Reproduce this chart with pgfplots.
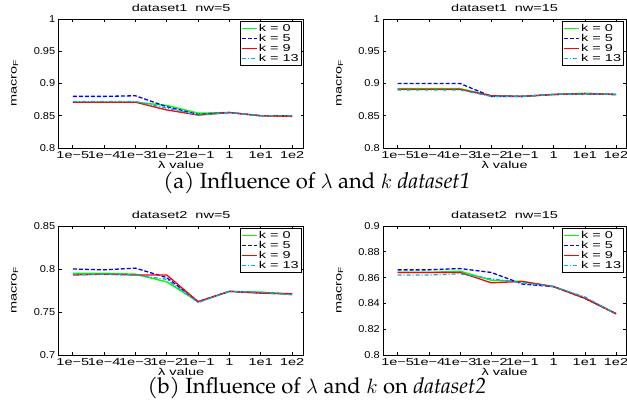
\documentclass[border=0pt]{standalone}
\usepackage{pgfplots}
\pgfplotsset{compat=1.18}
\usepackage{pgfplotstable}
\usepackage{fontspec}
\setmainfont{Liberation Sans}
\newfontfamily\wide[FakeStretch=1.45]{Liberation Sans}
\newfontfamily\ytk[FakeStretch=1.1]{Liberation Sans}
\newfontfamily\capfont{TeX Gyre Pagella}

% lambda index: 0=1e-5 ... 7=1e2
\pgfplotstableread{
x k0 k5 k9 k13
0 0.871 0.880 0.871 0.872
1 0.871 0.880 0.871 0.872
2 0.871 0.881 0.871 0.872
3 0.866 0.864 0.859 0.862
4 0.854 0.852 0.851 0.851
5 0.855 0.855 0.855 0.855
6 0.850 0.850 0.850 0.850
7 0.850 0.850 0.849 0.850
}\dataAa
\pgfplotstableread{
x k0 k5 k9 k13
0 0.892 0.900 0.891 0.890
1 0.892 0.900 0.891 0.890
2 0.892 0.900 0.891 0.890
3 0.881 0.880 0.881 0.880
4 0.880 0.880 0.880 0.880
5 0.883 0.883 0.883 0.883
6 0.885 0.884 0.884 0.884
7 0.883 0.883 0.883 0.883
}\dataAb
\pgfplotstableread{
x k0 k5 k9 k13
0 0.795 0.800 0.793 0.794
1 0.795 0.799 0.794 0.794
2 0.794 0.801 0.793 0.793
3 0.785 0.790 0.793 0.788
4 0.762 0.762 0.762 0.761
5 0.774 0.774 0.774 0.774
6 0.773 0.772 0.772 0.773
7 0.771 0.771 0.771 0.770
}\dataBa
\pgfplotstableread{
x k0 k5 k9 k13
0 0.864 0.866 0.864 0.862
1 0.864 0.866 0.864 0.862
2 0.865 0.867 0.864 0.863
3 0.858 0.864 0.856 0.859
4 0.857 0.855 0.857 0.856
5 0.853 0.853 0.853 0.853
6 0.844 0.844 0.844 0.845
7 0.832 0.832 0.832 0.832
}\dataBb

\tikzset{
  s0/.style={color=green, line width=1.4pt},
  s5/.style={color=blue, line width=1.3pt, dash pattern=on 4pt off 2pt},
  s9/.style={color=red, line width=1.3pt},
  s13/.style={color=cyan, line width=1.3pt, dash pattern=on 4pt off 2pt on 1pt off 2pt},
}

\pgfplotsset{
  sub/.style={
    scale only axis, width=245pt, height=129pt,
    xmin=-0.45, xmax=7.37,
    xtick={0,...,7},
    xticklabels={1e−5,1e−4,1e−3,1e−2,1e−1,1,1e1,1e2},
    tick align=inside, xtick pos=both, ytick pos=both,
    major tick length=3pt,
    axis line style={line width=0.9pt},
    tick style={line width=0.6pt, black},
    x tick label style={font=\wide\fontsize{10}{12}\selectfont},
    y tick label style={font=\ytk\fontsize{10}{12}\selectfont},
    xlabel={λ value},
    xlabel style={font=\wide\fontsize{10}{12}\selectfont, at={(axis description cs:0.5,-0.132)}, anchor=center},
    ylabel={macro\textsubscript{F}},
    ylabel style={font=\wide\fontsize{10}{12}\selectfont, at={(axis description cs:-0.18,0.5)}, anchor=center},
    every axis title shift=0pt,
    title style={font=\wide\fontsize{10}{12}\selectfont, at={(axis description cs:0.5,1)}, anchor=center, yshift=10.7pt},
    legend style={at={(0.992,0.985)}, anchor=north east, draw=black, line width=0.9pt,
      font=\wide\fontsize{10}{12}\selectfont, inner sep=1pt, row sep=-1.6pt,
      nodes={inner sep=1.5pt}},
    legend cell align=left,
    legend image code/.code={\draw[#1] (0pt,0pt) -- (15pt,0pt);},
  },
}

\begin{document}
\begin{tikzpicture}
\useasboundingbox (0,0) rectangle (627pt,404pt);

\begin{axis}[sub, at={(58.7pt,256pt)}, anchor=south west,
  title={dataset1\ \ nw=5},
  ymin=0.8, ymax=1, ytick={0.8,0.85,0.9,0.95,1},
  yticklabels={0.8,0.85,0.9,0.95,1}]
  \addplot[s0] table[x=x,y=k0] {\dataAa};
  \addplot[s5] table[x=x,y=k5] {\dataAa};
  \addplot[s9] table[x=x,y=k9] {\dataAa};
  \addplot[s13] table[x=x,y=k13] {\dataAa};
  \legend{k = 0,k = 5,k = 9,k = 13}
\end{axis}

\begin{axis}[sub, at={(383.3pt,256pt)}, anchor=south west, width=242.7pt,
  xmin=-0.46, xmax=7.32,
  title={dataset1\ \ nw=15},
  ymin=0.8, ymax=1, ytick={0.8,0.85,0.9,0.95,1},
  yticklabels={0.8,0.85,0.9,0.95,1}]
  \addplot[s0] table[x=x,y=k0] {\dataAb};
  \addplot[s5] table[x=x,y=k5] {\dataAb};
  \addplot[s9] table[x=x,y=k9] {\dataAb};
  \addplot[s13] table[x=x,y=k13] {\dataAb};
  \legend{k = 0,k = 5,k = 9,k = 13}
\end{axis}

\begin{axis}[sub, at={(58.7pt,49pt)}, anchor=south west,
  title={dataset2\ \ nw=5},
  ymin=0.7, ymax=0.85, ytick={0.7,0.75,0.8,0.85},
  yticklabels={0.7,0.75,0.8,0.85}]
  \addplot[s0] table[x=x,y=k0] {\dataBa};
  \addplot[s5] table[x=x,y=k5] {\dataBa};
  \addplot[s9] table[x=x,y=k9] {\dataBa};
  \addplot[s13] table[x=x,y=k13] {\dataBa};
  \legend{k = 0,k = 5,k = 9,k = 13}
\end{axis}

\begin{axis}[sub, at={(383.3pt,49pt)}, anchor=south west, width=242.7pt,
  xmin=-0.46, xmax=7.32,
  title={dataset2\ \ nw=15},
  ymin=0.8, ymax=0.9, ytick={0.8,0.82,0.84,0.86,0.88,0.9},
  yticklabels={0.8,0.82,0.84,0.86,0.88,0.9}]
  \addplot[s0] table[x=x,y=k0] {\dataBb};
  \addplot[s5] table[x=x,y=k5] {\dataBb};
  \addplot[s9] table[x=x,y=k9] {\dataBb};
  \addplot[s13] table[x=x,y=k13] {\dataBb};
  \legend{k = 0,k = 5,k = 9,k = 13}
\end{axis}

\node[anchor=base, font=\capfont\fontsize{22}{26}\selectfont] at (317pt,215pt)
  {(a)\ Influence of $\lambda$ and $k$ {\itshape dataset1}};
\node[anchor=base, font=\capfont\fontsize{22}{26}\selectfont] at (317pt,10pt)
  {(b)\ Influence of $\lambda$ and $k$ on {\itshape dataset2}};
\end{tikzpicture}
\end{document}
